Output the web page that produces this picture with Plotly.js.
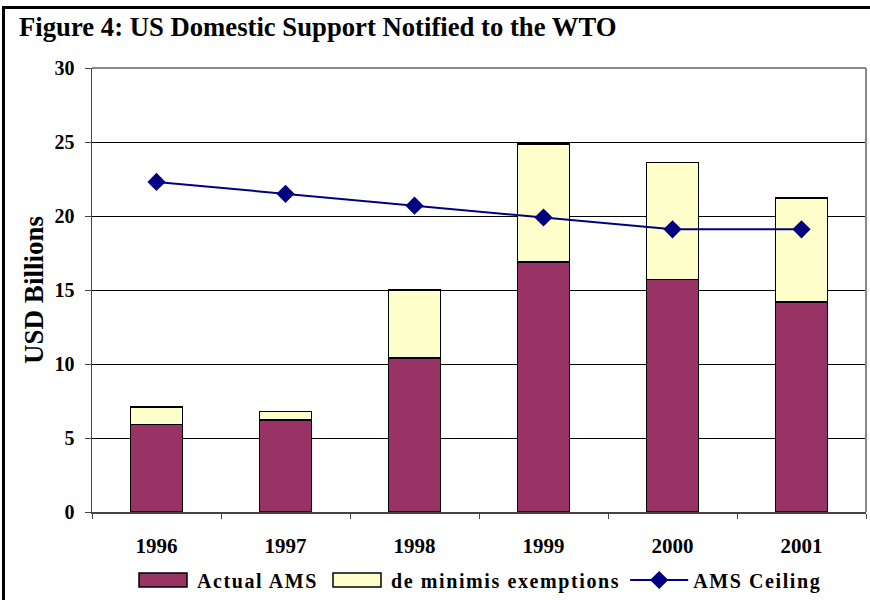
<!DOCTYPE html>
<html>
<head>
<meta charset="utf-8">
<script src="https://cdn.plot.ly/plotly-3.0.1.min.js"></script>
<style>
  body { margin: 0; background: #fff; }
  #chart { width: 870px; height: 600px; }
  #frame { position: absolute; left: 2px; top: 6px; width: 900px; height: 700px;
           border-left: 3px solid #000; border-top: 3px solid #000; pointer-events: none; }
  .legendtext { letter-spacing: 1.6px; }
</style>
</head>
<body>
<div id="chart"></div>
<div id="frame"></div>
<script>
var years = ['1996', '1997', '1998', '1999', '2000', '2001'];
var actualAMS = [5.9, 6.2, 10.4, 16.9, 15.7, 14.2];
var deMinimis = [1.2, 0.6, 4.6, 7.95, 7.9, 7.0];
var amsCeiling = [22.3, 21.5, 20.7, 19.9, 19.1, 19.1];

var serif = '"Liberation Serif", "Times New Roman", serif';

var amsTrace = {
  x: years,
  y: actualAMS,
  name: 'Actual AMS',
  type: 'bar',
  marker: { color: '#993366', line: { color: '#000', width: 1.5 } },
  hoverinfo: 'skip'
};

var minimisTrace = {
  x: years,
  y: deMinimis,
  name: 'de minimis exemptions',
  type: 'bar',
  marker: { color: '#FFFFCC', line: { color: '#000', width: 1.5 } },
  hoverinfo: 'skip'
};

var ceilingTrace = {
  x: years,
  y: amsCeiling,
  name: 'AMS Ceiling',
  type: 'scatter',
  mode: 'lines+markers',
  line: { color: '#000080', width: 2 },
  marker: { symbol: 'diamond', size: 14, color: '#000080' },
  hoverinfo: 'skip'
};

var layout = {
  width: 870,
  height: 600,
  margin: { l: 92, r: 4, t: 68, b: 88 },
  paper_bgcolor: '#fff',
  plot_bgcolor: '#fff',
  barmode: 'stack',
  bargap: 0.6,
  font: { family: serif, color: '#000' },
  title: {
    text: '<b>Figure 4: US Domestic Support Notified to the WTO</b>',
    font: { family: serif, size: 26.7, color: '#000' },
    x: 19 / 870, xanchor: 'left', xref: 'container',
    y: 1 - 27 / 600, yanchor: 'middle', yref: 'container'
  },
  xaxis: {
    type: 'category',
    tickson: 'boundaries',
    ticks: 'outside',
    ticklen: 5,
    tickcolor: '#444',
    showline: true,
    linecolor: '#444',
    linewidth: 1.5,
    mirror: false,
    showgrid: false,
    ticklabelstandoff: 14,
    tickfont: { family: serif, size: 21, color: '#000', weight: 'bold' }
  },
  yaxis: {
    range: [0, 30],
    dtick: 5,
    ticks: 'outside',
    ticklen: 6,
    tickcolor: '#444',
    showline: true,
    linecolor: '#444',
    linewidth: 1.5,
    showgrid: true,
    gridcolor: '#000',
    gridwidth: 1,
    zeroline: false,
    ticklabelstandoff: 6,
    tickfont: { family: serif, size: 20, color: '#000', weight: 'bold' },
    title: {
      text: '<b>USD Billions</b>',
      font: { family: serif, size: 27, color: '#000' },
      standoff: 3
    }
  },
  shapes: [
    { type: 'line', xref: 'paper', yref: 'paper', x0: 0, x1: 1, y0: 1, y1: 1, line: { color: '#888', width: 2 } },
    { type: 'line', xref: 'paper', yref: 'paper', x0: 1, x1: 1, y0: 0, y1: 1, line: { color: '#888', width: 2 } }
  ],
  showlegend: true,
  legend: {
    orientation: 'h',
    xref: 'container', yref: 'container',
    x: 478 / 870, xanchor: 'center',
    y: 1 - 580 / 600, yanchor: 'middle',
    traceorder: 'normal',
    itemwidth: 58,
    font: { family: serif, size: 20, color: '#000', weight: 'bold' }
  }
};

Plotly.newPlot('chart', [amsTrace, minimisTrace, ceilingTrace], layout, { staticPlot: true }).then(function () {
  // widen the bar swatches in the legend like the original
  document.querySelectorAll('#chart .legend .traces').forEach(function (g, i) {
    if (i < 2) {
      g.querySelectorAll('.legendpoints path').forEach(function (p) {
        p.setAttribute('d', 'M-24,-7H24V7H-24Z');
      });
    }
  });
});
</script>
</body>
</html>
